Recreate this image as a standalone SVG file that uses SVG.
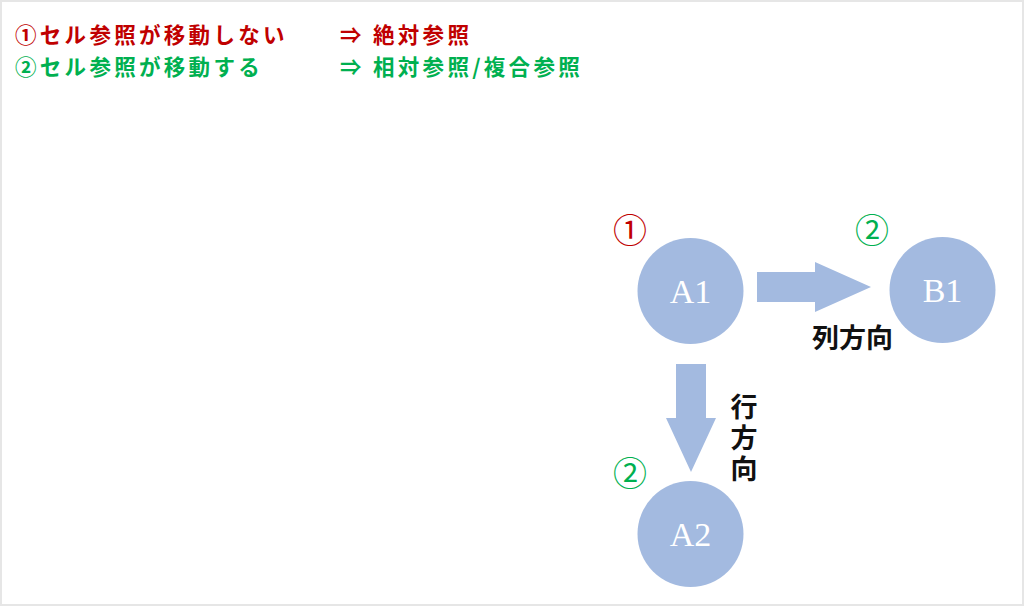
<svg xmlns="http://www.w3.org/2000/svg" width="1024" height="606" viewBox="0 0 1024 606">
<style>
.jp{font-family:"Noto Sans CJK JP","Noto Sans CJK SC",sans-serif;font-weight:bold;font-size:21.5px;letter-spacing:3.3px}
.red{fill:#C00000}
.green{fill:#00B050}
.node{fill:#A3BAE0}
.lbl{font-family:"Liberation Serif",serif;font-size:34px;fill:#FFFFFF;text-anchor:middle}
.dir{font-family:"Noto Sans CJK JP","Noto Sans CJK SC",sans-serif;font-size:27px;font-weight:bold;fill:#111111}
.num{font-family:"Noto Sans CJK JP","Noto Sans CJK SC",sans-serif;font-size:34px;text-anchor:middle}
</style>
<rect x="1" y="1" width="1022" height="604" fill="#FFFFFF" stroke="#E6E6E6" stroke-width="2"/>
<g id="legend">
<text class="jp red" x="15" y="43">①セル参照が移動しない</text>
<text class="jp red" x="340" y="43">⇒ 絶対参照</text>
<text class="jp green" x="15" y="75">②セル参照が移動する</text>
<text class="jp green" x="340" y="75">⇒ 相対参照/複合参照</text>
</g>
<g id="connectors">
<polygon class="node" points="757,272 815,272 815,262 871,287 815,312 815,302 757,302"/>
<polygon class="node" points="676,364 706,364 706,418 716,418 691,472 666,418 676,418"/>
<text class="dir" x="812" y="348">列方向</text>
<text class="dir" x="744" y="393" writing-mode="tb" style="writing-mode:vertical-rl" letter-spacing="4">行方向</text>
</g>
<g id="A1">
<circle class="node" cx="690.5" cy="291" r="53"/>
<text class="lbl" x="690.5" y="303">A1</text>
<text class="num red" x="630" y="243">①</text>
</g>
<g id="B1">
<circle class="node" cx="942.5" cy="290" r="53"/>
<text class="lbl" x="942.5" y="302">B1</text>
<text class="num green" x="872" y="243">②</text>
</g>
<g id="A2">
<circle class="node" cx="690.5" cy="534" r="53"/>
<text class="lbl" x="690.5" y="546">A2</text>
<text class="num green" x="630" y="486">②</text>
</g>
</svg>
